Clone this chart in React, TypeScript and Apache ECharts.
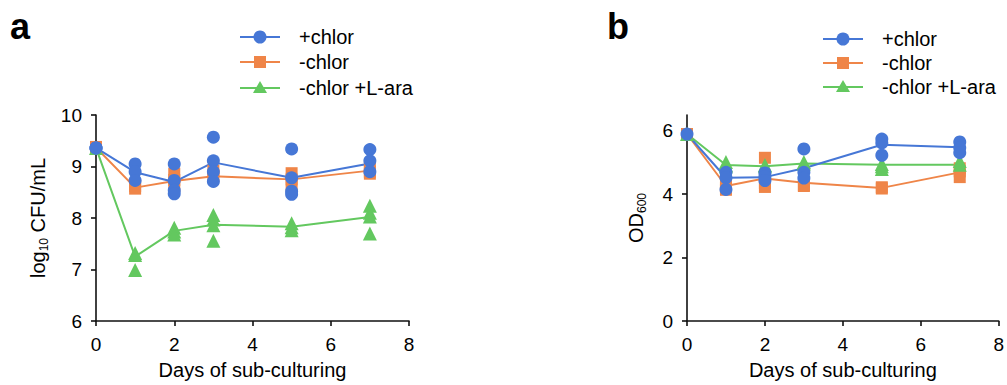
import React, { useEffect, useRef } from "react";
import * as echarts from "echarts";

const seriesNames = ["+chlor", "-chlor", "-chlor +L-ara"];
const colors = ["#4677D6", "#EF8548", "#63C85F"];
const symbols = ["circle", "rect", "triangle"];
const symbolSizes = [13, 12, 14];

const days = [0, 1, 2, 3, 5, 7];
const xTicks = [0, 2, 4, 6, 8];
const cfuTicks = [6, 7, 8, 9, 10];
const odTicks = [0, 2, 4, 6];

// Panel a: log10 CFU/mL — mean lines
const cfuMeanChlor = [9.36, 8.89, 8.7, 9.08, 8.78, 9.06];
const cfuMeanNoChlor = [9.37, 8.59, 8.72, 8.81, 8.75, 8.92];
const cfuMeanAra = [9.36, 7.25, 7.75, 7.87, 7.83, 8.02];

// Panel a: replicate points [day, value]
const cfuPtsChlor = [
  [0, 9.36], [0, 9.36], [0, 9.36],
  [1, 9.05], [1, 8.9], [1, 8.73],
  [2, 9.05], [2, 8.73], [2, 8.54], [2, 8.47],
  [3, 9.57], [3, 9.11], [3, 8.9], [3, 8.71],
  [5, 9.34], [5, 8.78], [5, 8.52], [5, 8.46],
  [7, 9.33], [7, 9.11], [7, 8.9],
];
const cfuPtsNoChlor = [
  [0, 9.38], [0, 9.37],
  [1, 8.62], [1, 8.57],
  [2, 8.86], [2, 8.74], [2, 8.62],
  [3, 8.92], [3, 8.82],
  [5, 8.87], [5, 8.75], [5, 8.63],
  [7, 8.98], [7, 8.9], [7, 8.86],
];
const cfuPtsAra = [
  [0, 9.36],
  [1, 7.32], [1, 7.28], [1, 6.99],
  [2, 7.81], [2, 7.74], [2, 7.68],
  [3, 8.06], [3, 7.97], [3, 7.86], [3, 7.56],
  [5, 7.9], [5, 7.82], [5, 7.76],
  [7, 8.24], [7, 8.1], [7, 8.03], [7, 7.7],
];

// Panel b: OD600 — mean lines
const odMeanChlor = [5.9, 4.52, 4.54, 4.82, 5.56, 5.48];
const odMeanNoChlor = [5.9, 4.26, 4.5, 4.36, 4.2, 4.69];
const odMeanAra = [5.9, 4.92, 4.88, 4.97, 4.93, 4.93];

// Panel b: replicate points [day, value]
const odPtsChlor = [
  [0, 5.9],
  [1, 4.69], [1, 4.52], [1, 4.15],
  [2, 4.67], [2, 4.55], [2, 4.43],
  [3, 5.43], [3, 4.69], [3, 4.51],
  [5, 5.74], [5, 5.62], [5, 5.23],
  [7, 5.65], [7, 5.47], [7, 5.31],
];
const odPtsNoChlor = [
  [0, 5.9],
  [1, 4.32], [1, 4.22], [1, 4.14],
  [2, 5.15], [2, 4.35], [2, 4.23],
  [3, 4.28], [3, 4.26],
  [5, 4.22], [5, 4.18],
  [7, 4.82], [7, 4.72], [7, 4.54],
];
const odPtsAra = [
  [0, 5.9],
  [1, 5.02], [1, 4.92], [1, 4.88],
  [2, 4.92], [2, 4.88],
  [3, 5.02], [3, 4.97],
  [5, 4.95], [5, 4.88], [5, 4.8],
  [7, 5.05], [7, 4.93],
];

const FONT = "Liberation Sans, Arial, Helvetica, sans-serif";
const AXIS_COLOR = "#111";

function xAxisFor(gridIndex: number) {
  return {
    type: "value",
    gridIndex,
    min: 0,
    max: 8,
    interval: 2,
    name: "Days of sub-culturing",
    nameLocation: "middle",
    nameGap: 39,
    nameTextStyle: { fontSize: 20, color: "#000", fontFamily: FONT },
    axisLine: { show: true, onZero: false, lineStyle: { color: AXIS_COLOR, width: 1.6 } },
    axisTick: { show: true, length: 5, lineStyle: { color: AXIS_COLOR, width: 1.6 }, customValues: xTicks },
    axisLabel: { fontSize: 19, color: "#000", fontFamily: FONT, margin: 14, customValues: xTicks },
    splitLine: { show: false },
  };
}

function legendGraphics(x0: number, textX: number, ys: number[]) {
  const out: any[] = [];
  seriesNames.forEach((name, i) => {
    const y = ys[i];
    const c = colors[i];
    out.push({
      type: "line",
      shape: { x1: x0, y1: y, x2: x0 + 40, y2: y },
      style: { stroke: c, lineWidth: 2 },
    });
    const cx = x0 + 20;
    if (symbols[i] === "circle") {
      out.push({ type: "circle", shape: { cx, cy: y, r: 6.5 }, style: { fill: c } });
    } else if (symbols[i] === "rect") {
      out.push({ type: "rect", shape: { x: cx - 6, y: y - 6, width: 12, height: 12 }, style: { fill: c } });
    } else {
      out.push({
        type: "polygon",
        shape: { points: [[cx, y - 7], [cx + 7, y + 5], [cx - 7, y + 5]] },
        style: { fill: c },
      });
    }
    out.push({
      type: "text",
      x: textX,
      y,
      style: { text: name, fontSize: 20, fill: "#000", fontFamily: FONT, verticalAlign: "middle", align: "left" },
    });
  });
  return out;
}

export default function App() {
  const ref = useRef<HTMLDivElement>(null);

  useEffect(() => {
    if (!ref.current) return;
    const chart = echarts.init(ref.current, null, { renderer: "svg" });

    const lineSeries = (name: string, data: number[], i: number, axis: number) => ({
      type: "line",
      name,
      xAxisIndex: axis,
      yAxisIndex: axis,
      data: days.map((d, k) => [d, data[k]]),
      symbol: "none",
      lineStyle: { color: colors[i], width: 2 },
      itemStyle: { color: colors[i] },
      z: 2,
    });
    const scatterSeries = (name: string, data: number[][], i: number, axis: number, z: number) => ({
      type: "scatter",
      name,
      xAxisIndex: axis,
      yAxisIndex: axis,
      data,
      symbol: symbols[i],
      symbolSize: symbolSizes[i],
      itemStyle: { color: colors[i], opacity: 1 },
      z,
    });

    const subStyle = { fontSize: 12, verticalAlign: "bottom", lineHeight: 12, fontFamily: FONT, color: "#000" };

    const option: any = {
      animation: false,
      backgroundColor: "#fff",
      textStyle: { fontFamily: FONT },
      grid: [
        { left: 96, top: 115, width: 313, height: 210 },
        { left: 687, top: 115, width: 313, height: 210 },
      ],
      xAxis: [xAxisFor(0), xAxisFor(1)],
      yAxis: [
        {
          type: "value",
          gridIndex: 0,
          min: 6,
          max: 10,
          interval: 1,
          name: "log{sub|10} CFU/mL",
          nameLocation: "middle",
          nameGap: 46,
          nameTextStyle: {
            fontSize: 20,
            color: "#000",
            fontFamily: FONT,
            lineHeight: 24,
            rich: { sub: subStyle },
          },
          axisLine: { show: true, onZero: false, lineStyle: { color: AXIS_COLOR, width: 1.6 } },
          axisTick: { show: true, length: 5, lineStyle: { color: AXIS_COLOR, width: 1.6 }, customValues: cfuTicks },
          axisLabel: { fontSize: 19, color: "#000", fontFamily: FONT, margin: 14, customValues: cfuTicks },
          splitLine: { show: false },
        },
        {
          type: "value",
          gridIndex: 1,
          min: 0,
          max: 6.5,
          name: "OD{sub|600}",
          nameLocation: "middle",
          nameGap: 39,
          nameTextStyle: {
            fontSize: 20,
            color: "#000",
            fontFamily: FONT,
            lineHeight: 24,
            rich: { sub: subStyle },
          },
          axisLine: { show: true, onZero: false, lineStyle: { color: AXIS_COLOR, width: 1.6 } },
          axisTick: { show: true, length: 5, lineStyle: { color: AXIS_COLOR, width: 1.6 }, customValues: odTicks },
          axisLabel: { fontSize: 19, color: "#000", fontFamily: FONT, margin: 14, customValues: odTicks },
          splitLine: { show: false },
        },
      ],
      graphic: [
        { type: "text", x: 10, y: 8, style: { text: "a", fontSize: 36, fontWeight: "bold", fill: "#000", fontFamily: FONT } },
        { type: "text", x: 607, y: 8, style: { text: "b", fontSize: 36, fontWeight: "bold", fill: "#000", fontFamily: FONT } },
        ...legendGraphics(240, 299, [37, 62, 88]),
        ...legendGraphics(823, 882, [39, 63, 87]),
      ],
      series: [
        lineSeries(seriesNames[1], cfuMeanNoChlor, 1, 0),
        lineSeries(seriesNames[2], cfuMeanAra, 2, 0),
        lineSeries(seriesNames[0], cfuMeanChlor, 0, 0),
        scatterSeries(seriesNames[1], cfuPtsNoChlor, 1, 0, 3),
        scatterSeries(seriesNames[2], cfuPtsAra, 2, 0, 4),
        scatterSeries(seriesNames[0], cfuPtsChlor, 0, 0, 5),
        lineSeries(seriesNames[1], odMeanNoChlor, 1, 1),
        lineSeries(seriesNames[2], odMeanAra, 2, 1),
        lineSeries(seriesNames[0], odMeanChlor, 0, 1),
        scatterSeries(seriesNames[1], odPtsNoChlor, 1, 1, 3),
        scatterSeries(seriesNames[2], odPtsAra, 2, 1, 4),
        scatterSeries(seriesNames[0], odPtsChlor, 0, 1, 5),
      ],
    };

    chart.setOption(option);
    return () => chart.dispose();
  }, []);

  return (
    <div
      ref={ref}
      style={{ position: "absolute", left: 0, top: 0, width: 1007, height: 385, background: "#fff" }}
    />
  );
}
